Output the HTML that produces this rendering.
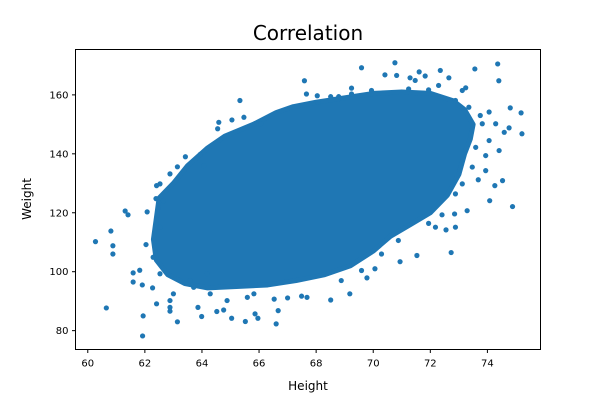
<!DOCTYPE html>
<html><head><meta charset="utf-8"><style>
html,body{margin:0;padding:0;background:#fff;}
svg{display:block;font-family:"DejaVu Sans","Liberation Sans",sans-serif;}
</style></head><body>
<svg id="chart" width="600" height="400" viewBox="0 0 600 400">
<rect width="600" height="400" fill="#fff"/>
<text x="308" y="40" font-size="20" text-anchor="middle" fill="#000">Correlation</text>
<g id="core"></g>
<g id="pts"></g>
<rect x="75.5" y="49.5" width="465" height="300" fill="none" stroke="#000" stroke-width="1"/>
<g id="xt"></g>
<g id="yt"></g>
<text x="308" y="390" font-size="12" text-anchor="middle">Height</text>
<text transform="translate(31,199) rotate(-90)" font-size="12" text-anchor="middle">Weight</text>
</svg>
<script>
const xTicks=[60,62,64,66,68,70,72,74];
const yTicks=[80,100,120,140,160];
const coreHeights=[62.4,62.5,63.0,63.5,64.2,64.8,65.8,66.6,67.2,68.0,69.0,70.0,71.0,72.0,72.8,73.2,73.5,73.4,73.2,73.0,72.6,72.0,71.3,70.6,70.0,69.2,68.3,67.3,66.3,65.3,64.2,63.4,62.8,62.4,62.3];
const coreWeights=[118,125,130,136,142,146,150,154,156,157.5,159,160.5,161,160.5,158,155,150,145,140,133,126,120,116,112,107,102,99,97,95.5,95,94.5,96,99,104,111];
const heights=[60.27,60.65,60.81,60.88,60.88,61.31,61.41,61.59,61.59,61.82,61.91,61.94,61.92,62.08,62.04,62.27,62.41,62.88,62.88,63.14,63.42,63.14,62.41,62.39,62.53,64.59,64.55,65.05,65.33,65.47,67.59,67.66,68.04,68.06,68.51,68.79,69.24,69.59,70.76,70.82,70.41,71.61,71.82,72.35,72.65,73.56,74.36,74.4,74.8,75.18,75.21,74.88,74.53,74.26,74.08,73.68,73.94,73.29,72.85,72.73,72.55,71.53,70.94,69.78,69.18,68.51,67.68,67.49,66.67,66.6,65.96,65.86,65.52,65.04,64.52,64.76,63.99,63.86,74.06,73.75,74.29,74.59,74.76,73.12,73.24,71.24,66.06,66.53,67.0,71.94,72.41,73.47,73.94,65.59,64.88,64.29,63.71,63.0,62.88,62.53,62.29,62.53,62.65,62.88,63.94,64.06,72.88,73.12,73.59,74.06,74.41,73.82,73.35,72.88,72.29,71.94,71.47,71.29,69.94,69.24,70.88,70.29,70.06,69.59,68.88,72.88,72.18,63.59,64.18,65.82];
const weights=[110.2,87.7,113.8,108.8,106.0,120.6,119.3,99.6,96.5,100.5,95.5,85.0,78.2,120.3,109.2,94.5,89.1,87.9,86.6,83.0,139.0,135.6,129.2,124.8,129.8,150.7,148.5,151.5,158.1,152.4,164.8,160.3,159.7,157.5,159.4,159.4,162.3,169.2,170.9,166.6,166.8,167.8,166.4,168.3,165.8,168.8,170.5,164.8,155.6,153.9,146.8,122.1,130.9,129.2,124.1,131.2,134.3,120.7,119.6,106.5,114.2,105.5,103.4,97.9,92.5,90.4,91.3,91.7,86.8,82.3,84.2,85.7,83.1,84.2,86.5,87.0,84.8,87.9,154.2,153.0,150.2,147.3,148.8,161.5,162.4,162.0,150.2,90.7,91.1,116.4,119.3,135.5,139.4,91.3,90.2,92.5,94.7,92.5,90.2,99.3,104.9,115.1,124.1,133.2,139.8,136.0,126.4,129.8,142.2,144.5,141.1,150.2,155.8,158.1,163.2,161.7,164.9,165.8,161.5,160.3,110.6,106.0,101.0,100.4,97.0,115.1,115.1,97.0,99.3,92.5];

const NS='http://www.w3.org/2000/svg';
const X0=59.57,X1=75.86,Y0=73.6,Y1=175.4;
const L=75.5,R=540.5,T=49.5,B=349.5;
function sx(v){return L+(v-X0)/(X1-X0)*(R-L);}
function sy(v){return B-(v-Y0)/(Y1-Y0)*(B-T);}
function mk(tag,attrs){const e=document.createElementNS(NS,tag);for(const k in attrs)e.setAttribute(k,attrs[k]);return e;}
const C='#1f77b4';
const core=document.getElementById('core');
const poly=mk('polygon',{points:coreHeights.map((h,i)=>sx(h)+','+sy(coreWeights[i])).join(' '),fill:C,stroke:C,'stroke-width':5,'stroke-linejoin':'round'});


core.appendChild(poly);
const pts=document.getElementById('pts');
heights.forEach((h,i)=>{
  const c=mk('circle',{cx:sx(h),cy:sy(weights[i]),r:2.6,fill:C});
  
  
  pts.appendChild(c);
});
const xt=document.getElementById('xt');
xTicks.forEach(v=>{
  const x=sx(v);
  const l=mk('line',{x1:x,x2:x,y1:B,y2:B+3.5,stroke:'#000'});
  
  
  xt.appendChild(l);
  const t=mk('text',{x:x,y:B+17,'font-size':10,'text-anchor':'middle'});
  t.textContent=v;
  
  
  xt.appendChild(t);
});
const yt=document.getElementById('yt');
yTicks.forEach(v=>{
  const y=sy(v);
  const l=mk('line',{x1:L-3.5,x2:L,y1:y,y2:y,stroke:'#000'});
  
  
  yt.appendChild(l);
  const t=mk('text',{x:L-7,y:y+3.5,'font-size':10,'text-anchor':'end'});
  t.textContent=v;
  
  
  yt.appendChild(t);
});
</script>
</body></html>
